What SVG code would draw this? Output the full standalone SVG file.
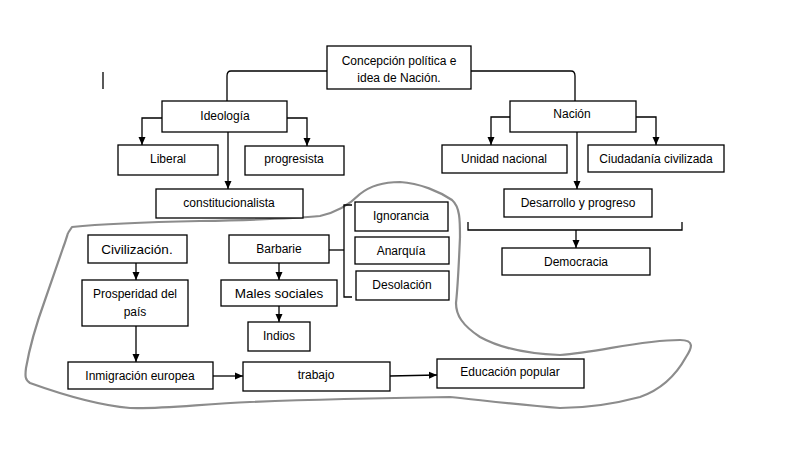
<svg xmlns="http://www.w3.org/2000/svg" width="787" height="458" viewBox="0 0 787 458">
<defs>
<style>
.box{fill:#fff;stroke:#000;stroke-width:1.3}
.ln{fill:none;stroke:#000;stroke-width:1.3}
.t{font-family:"Liberation Sans",Arial,sans-serif;font-size:12px;fill:#000;text-anchor:middle}
.tb{font-size:13.5px}
.blob{fill:none;stroke:#8c8c8c;stroke-width:2.2;stroke-linejoin:round}
</style>
<marker id="arr" markerWidth="8" markerHeight="8" refX="8" refY="4" orient="auto" markerUnits="userSpaceOnUse">
<path d="M0,0.5 L8,4 L0,7.5 z" fill="#000"/>
</marker>
</defs>
<rect width="787" height="458" fill="#fff"/>

<path class="blob" d="M68,233 L72,227 C100,224 150,222 200,221 C250,220 290,219 320,216 C338,212 350,204 360,194 C370,186 385,182 400,182 C420,183 440,192 452,200 C460,207 460,220 460,237 C459,260 458,285 456,303 C456,315 462,325 480,337 C500,348 530,354 560,355 C600,352 640,340 680,340 C695,340 692,348 686,357 C675,377 660,390 640,397 C610,405 580,408 560,408 C520,405 480,400 450,397 C380,398 300,400 250,402 C200,404 165,409 130,408 C95,405 55,392 30,383 C25,380 25,376 26,368 C30,345 37,322 45,300 C52,280 58,262 63,248 C66,240 67,236 68,233"/>

<g id="connectors">
<line class="ln" x1="103" y1="72" x2="103" y2="89"/>
<path class="ln" d="M327,71 L231,71 Q227,71 227,76 L227,101"/>
<path class="ln" d="M471,71 L571,71 Q575,71 575,76 L575,101"/>
<path class="ln" d="M162,118 L142,118 L142,145" marker-end="url(#arr)"/>
<path class="ln" d="M287,118 L307,118 L307,146" marker-end="url(#arr)"/>
<path class="ln" d="M228,132 L228,189" marker-end="url(#arr)"/>
<path class="ln" d="M510,117 L491,117 L491,145" marker-end="url(#arr)"/>
<path class="ln" d="M636,117 L656,117 L656,145" marker-end="url(#arr)"/>
<path class="ln" d="M577,132 L577,189" marker-end="url(#arr)"/>
<path class="ln" d="M468,222 L468,230 L682,230 L682,222"/>
<path class="ln" d="M576,230 L576,248" marker-end="url(#arr)"/>
<path class="ln" d="M136,263 L136,280" marker-end="url(#arr)"/>
<path class="ln" d="M136,326 L136,362" marker-end="url(#arr)"/>
<path class="ln" d="M279,263 L279,280" marker-end="url(#arr)"/>
<path class="ln" d="M279,306 L279,322" marker-end="url(#arr)"/>
<path class="ln" d="M329,250 L344,250"/>
<path class="ln" d="M352,205 L344,205 L344,297 L352,297"/>
<path class="ln" d="M213,376 L243,376" marker-end="url(#arr)"/>
<path class="ln" d="M390,376 L437,375" marker-end="url(#arr)"/>
</g>

<g id="concepcion"><rect class="box" x="327" y="46" width="144" height="43"/><text class="t" x="399" y="65">Concepción política e</text><text class="t" x="399" y="82">idea de Nación.</text></g>
<g id="ideologia"><rect class="box" x="162" y="101" width="125" height="31"/><text class="t" x="225" y="120">Ideología</text></g>
<g id="liberal"><rect class="box" x="118" y="145" width="100" height="30"/><text class="t" x="168" y="163">Liberal</text></g>
<g id="progresista"><rect class="box" x="245" y="146" width="99" height="29"/><text class="t" x="294" y="163">progresista</text></g>
<g id="constitucionalista"><rect class="box" x="156" y="189" width="147" height="29"/><text class="t" x="229" y="207">constitucionalista</text></g>
<g id="nacion"><rect class="box" x="510" y="101" width="126" height="31"/><text class="t" x="572" y="118">Nación</text></g>
<g id="unidad"><rect class="box" x="442" y="145" width="125" height="28"/><text class="t" x="504" y="163">Unidad nacional</text></g>
<g id="ciudadania"><rect class="box" x="588" y="145" width="136" height="27"/><text class="t" x="656" y="163">Ciudadanía civilizada</text></g>
<g id="desarrollo"><rect class="box" x="504" y="189" width="148" height="28"/><text class="t" x="578" y="207">Desarrollo y progreso</text></g>
<g id="democracia"><rect class="box" x="502" y="248" width="148" height="27"/><text class="t" x="576" y="266">Democracia</text></g>
<g id="civilizacion"><rect class="box" x="88" y="235" width="99" height="28"/><text class="t tb" x="137" y="254">Civilización.</text></g>
<g id="prosperidad"><rect class="box" x="82" y="280" width="106" height="46"/><text class="t" x="135" y="298">Prosperidad del</text><text class="t" x="135" y="316">país</text></g>
<g id="inmigracion"><rect class="box" x="68" y="362" width="145" height="27"/><text class="t" x="140" y="380">Inmigración europea</text></g>
<g id="trabajo"><rect class="box" x="243" y="362" width="147" height="29"/><text class="t" x="316" y="379">trabajo</text></g>
<g id="educacion"><rect class="box" x="437" y="359" width="147" height="29"/><text class="t" x="510" y="376">Educación popular</text></g>
<g id="barbarie"><rect class="box" x="229" y="235" width="100" height="28"/><text class="t" x="279" y="253">Barbarie</text></g>
<g id="males"><rect class="box" x="221" y="280" width="116" height="26"/><text class="t tb" x="279" y="298">Males sociales</text></g>
<g id="indios"><rect class="box" x="248" y="322" width="62" height="29"/><text class="t" x="279" y="340">Indios</text></g>
<g id="ignorancia"><rect class="box" x="355" y="202" width="93" height="29"/><text class="t" x="401" y="220">Ignorancia</text></g>
<g id="anarquia"><rect class="box" x="355" y="237" width="94" height="27"/><text class="t" x="401" y="255">Anarquía</text></g>
<g id="desolacion"><rect class="box" x="356" y="271" width="93" height="29"/><text class="t" x="402" y="289">Desolación</text></g>
</svg>
